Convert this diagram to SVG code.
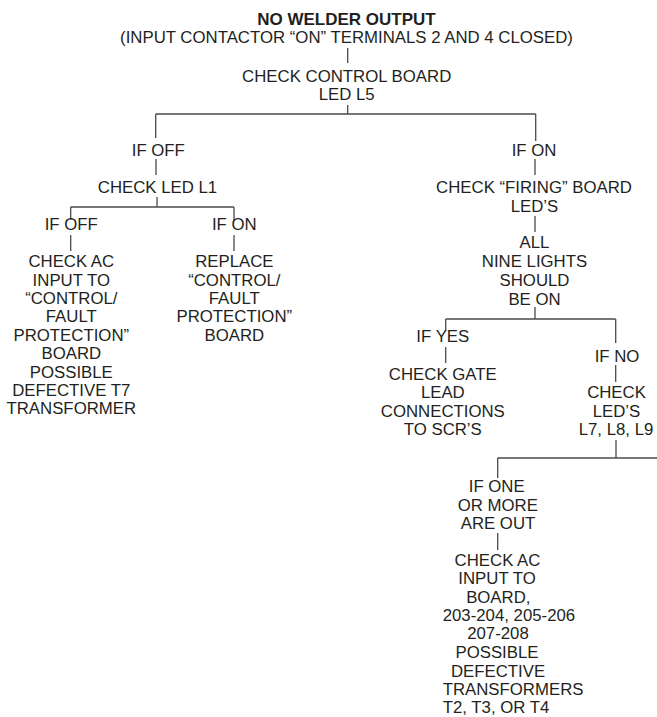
<svg xmlns="http://www.w3.org/2000/svg" width="657" height="717" viewBox="0 0 657 717">
<style>
text{font-family:"Liberation Sans",Arial,Helvetica,sans-serif;font-size:16.8px;fill:#231f20;text-anchor:middle}
.b{font-weight:bold;font-size:17px}
.l{text-anchor:start}
#connectors line{stroke:#4a4a4a;stroke-width:1.3;fill:none}
</style>
<rect width="657" height="717" fill="#fff"/>
<g id="connectors">
<line x1="347.7" y1="48" x2="347.7" y2="63"/>
<line x1="347.7" y1="105" x2="347.7" y2="114"/>
<line x1="155.7" y1="114" x2="535.7" y2="114"/>
<line x1="155.7" y1="114" x2="155.7" y2="138"/>
<line x1="156" y1="159" x2="156" y2="175"/>
<line x1="157" y1="197" x2="157" y2="207"/>
<line x1="70.7" y1="207" x2="234" y2="207"/>
<line x1="70.7" y1="207" x2="70.7" y2="220"/>
<line x1="70.7" y1="235" x2="70.7" y2="251"/>
<line x1="234" y1="207" x2="234" y2="220"/>
<line x1="234" y1="235" x2="234" y2="251"/>
<line x1="535.7" y1="114" x2="535.7" y2="141"/>
<line x1="535" y1="159" x2="535" y2="175"/>
<line x1="535" y1="216" x2="535" y2="232"/>
<line x1="535" y1="307" x2="535" y2="319"/>
<line x1="445.7" y1="319" x2="615.7" y2="319"/>
<line x1="445.7" y1="319" x2="445.7" y2="331"/>
<line x1="445.7" y1="347" x2="445.7" y2="363"/>
<line x1="615.7" y1="319" x2="615.7" y2="343"/>
<line x1="615.7" y1="365" x2="615.7" y2="382"/>
<line x1="616" y1="440" x2="616" y2="458"/>
<line x1="497.7" y1="458" x2="657" y2="458"/>
<line x1="497.7" y1="458" x2="497.7" y2="478"/>
<line x1="497.7" y1="533" x2="497.7" y2="550"/>
</g>
<g id="title">
<text class="b" x="346.5" y="25">NO WELDER OUTPUT</text>
<text x="346.5" y="43">(INPUT CONTACTOR “ON” TERMINALS 2 AND 4 CLOSED)</text>
</g>
<g id="check-control-board">
<text x="346.7" y="81.7">CHECK CONTROL BOARD</text>
<text x="346.7" y="100">LED L5</text>
</g>
<g id="if-off-1"><text x="158.3" y="156">IF OFF</text></g>
<g id="check-led-l1"><text x="157.5" y="193.3">CHECK LED L1</text></g>
<g id="if-off-2"><text x="71.2" y="230">IF OFF</text></g>
<g id="if-on-2"><text x="234.3" y="230">IF ON</text></g>
<g id="check-ac-input-control">
<text x="71.3" y="267.3">CHECK AC</text>
<text x="71.3" y="285.7">INPUT TO</text>
<text x="71.3" y="304">“CONTROL/</text>
<text x="71.3" y="322.4">FAULT</text>
<text x="71.3" y="340.8">PROTECTION”</text>
<text x="71.3" y="359.2">BOARD</text>
<text x="71.3" y="377.6">POSSIBLE</text>
<text x="71.3" y="396">DEFECTIVE T7</text>
<text x="71.3" y="414.4">TRANSFORMER</text>
</g>
<g id="replace-board">
<text x="234.3" y="267.3">REPLACE</text>
<text x="234.3" y="285.7">“CONTROL/</text>
<text x="234.3" y="304">FAULT</text>
<text x="234.3" y="322.4">PROTECTION”</text>
<text x="234.3" y="340.8">BOARD</text>
</g>
<g id="if-on-1"><text x="534" y="156">IF ON</text></g>
<g id="check-firing-board">
<text x="534" y="193.3">CHECK “FIRING” BOARD</text>
<text x="534.5" y="211.7">LED’S</text>
</g>
<g id="all-nine-lights">
<text x="534.5" y="248.3">ALL</text>
<text x="534.5" y="267">NINE LIGHTS</text>
<text x="534.5" y="286">SHOULD</text>
<text x="534.5" y="304.7">BE ON</text>
</g>
<g id="if-yes"><text x="442.8" y="342.3">IF YES</text></g>
<g id="check-gate-lead">
<text x="442.8" y="380">CHECK GATE</text>
<text x="442.8" y="398.3">LEAD</text>
<text x="442.8" y="416.7">CONNECTIONS</text>
<text x="442.8" y="435.3">TO SCR’S</text>
</g>
<g id="if-no"><text x="617" y="361.7">IF NO</text></g>
<g id="check-leds-l7-l8-l9">
<text x="616.5" y="397.5">CHECK</text>
<text x="616.5" y="416.7">LED’S</text>
<text x="616" y="435">L7, L8, L9</text>
</g>
<g id="if-one-or-more">
<text x="496.7" y="492.3">IF ONE</text>
<text x="497.8" y="510.7">OR MORE</text>
<text x="498" y="529.3">ARE OUT</text>
</g>
<g id="check-ac-input-board">
<text x="497.5" y="565.7">CHECK AC</text>
<text x="497" y="584">INPUT TO</text>
<text x="498.3" y="602.7">BOARD,</text>
<text class="l" x="442.7" y="621">203-204, 205-206</text>
<text x="498" y="639.3">207-208</text>
<text x="497" y="658.3">POSSIBLE</text>
<text x="498" y="676.7">DEFECTIVE</text>
<text class="l" x="442.7" y="695">TRANSFORMERS</text>
<text class="l" x="442.7" y="713.3">T2, T3, OR T4</text>
</g>
</svg>
